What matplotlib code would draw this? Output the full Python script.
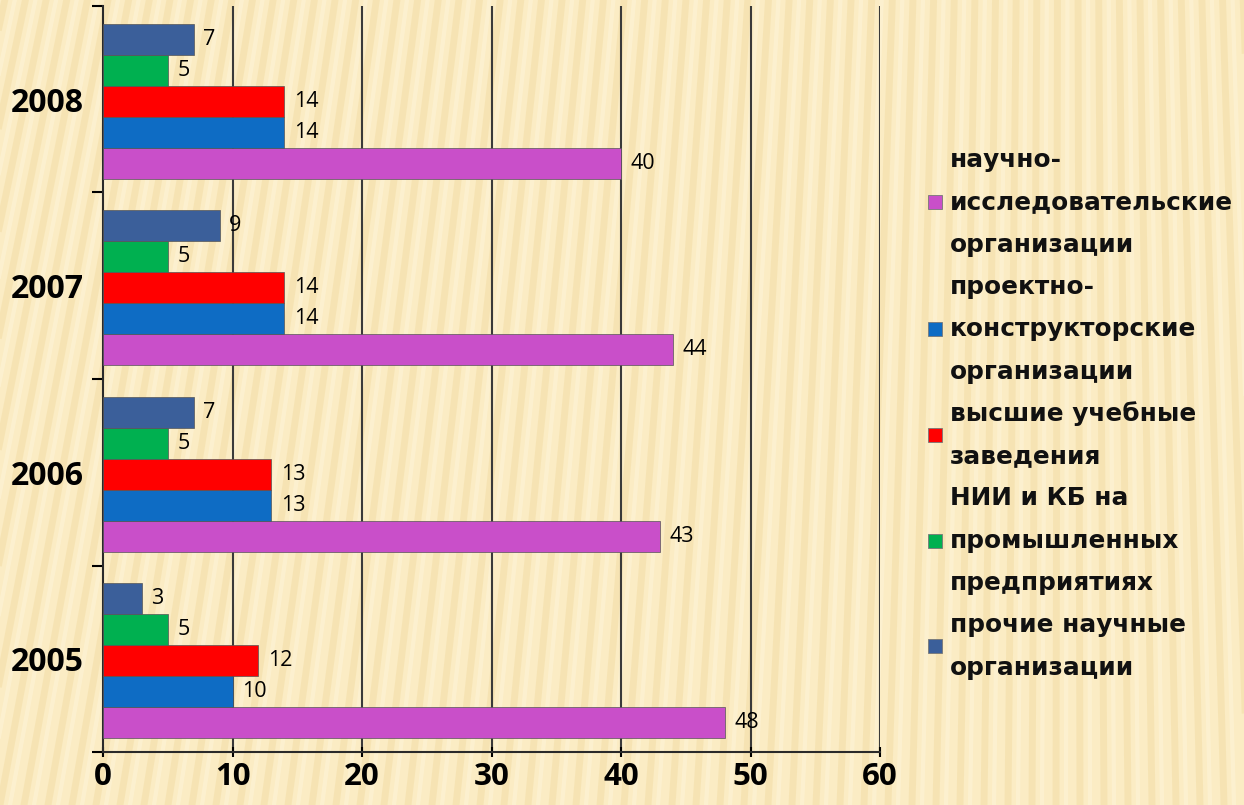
import matplotlib
matplotlib.use("Agg")
import matplotlib.pyplot as plt
from matplotlib.lines import Line2D
from matplotlib.patches import Rectangle
import numpy as np

years = ["2005", "2006", "2007", "2008"]
series_names = [
    "научно-\nисследовательские\nорганизации",
    "проектно-\nконструкторские\nорганизации",
    "высшие учебные\nзаведения",
    "НИИ и КБ на\nпромышленных\nпредприятиях",
    "прочие научные\nорганизации",
]
research = [48, 43, 44, 40]
design = [10, 13, 14, 14]
higher_ed = [12, 13, 14, 14]
industry = [5, 5, 5, 5]
other = [3, 7, 9, 7]
series_values = [research, design, higher_ed, industry, other]
colors = ["#C94FC9", "#0E6CC4", "#FF0000", "#00B050", "#3B5F9A"]
xticks = [0, 10, 20, 30, 40, 50, 60]

W, H = 1244, 805
fig = plt.figure(figsize=(W / 100, H / 100), dpi=100)
fig.patch.set_facecolor("#FBECC4")

# striped background texture
for i in range(-40, 80):
    x0 = i * 24 / W
    slant = 0.12 - 0.14 * (i * 24 / W)
    fig.add_artist(Line2D([x0, x0 + slant], [0, 1], transform=fig.transFigure,
                          color="#F1DAA0", lw=5, alpha=0.45, zorder=-10))
    fig.add_artist(Line2D([x0 + 10 / W, x0 + 10 / W + slant], [0, 1], transform=fig.transFigure,
                          color="#FFF7DE", lw=3, alpha=0.45, zorder=-10))

ax = fig.add_axes([103 / W, 1 - 752 / H, (880 - 103) / W, (752 - 6) / H])
ax.set_facecolor("none")

h = 0.166
y = np.arange(len(years))
for k, (vals, col) in enumerate(zip(series_values, colors)):
    pos = y + (k - 2) * h - 0.01
    ax.barh(pos, vals, height=h, color=col, edgecolor="#555555", linewidth=0.5, zorder=3)
    for p, v in zip(pos, vals):
        ax.text(v + 0.75, p, str(v), va="center", ha="left", fontsize=15.5,
                family="Open Sans", color="#000000", zorder=4)

ax.set_xlim(0, 60)
ax.set_ylim(-0.5, len(years) - 0.5)
ax.set_xticks(xticks)
ax.set_xticklabels([str(t) for t in xticks], fontsize=22.5, fontweight="bold", family="Open Sans")
ax.set_yticks(y)
ax.set_yticklabels(years, fontsize=23, fontweight="bold", family="Open Sans")
ax.tick_params(axis="y", which="major", length=0, pad=14)
ax.set_yticks(np.arange(-0.5, len(years), 1), minor=True)
ax.tick_params(axis="y", which="minor", length=8, width=1.5, direction="out")
ax.tick_params(axis="x", which="major", length=7, width=1.5, direction="inout", pad=4)
for t in xticks[1:]:
    ax.axvline(t, color="#3A3A3A", lw=1.5, zorder=1)
for s in ["top", "right"]:
    ax.spines[s].set_visible(False)
for s in ["left", "bottom"]:
    ax.spines[s].set_linewidth(1.5)
    ax.spines[s].set_color("#2A2A2A")

# legend, drawn line by line
line_h = 42.3
top_y = 160
box_x = 928
txt_x = 950
row = 0
for name, col in zip(series_names, colors):
    lines = name.split("\n")
    mid = top_y + (row + (len(lines) - 1) / 2) * line_h
    fig.add_artist(Rectangle((box_x / W, 1 - (mid + 7) / H), 14 / W, 14 / H,
                             transform=fig.transFigure, facecolor=col,
                             edgecolor="#777777", lw=0.6))
    for ln in lines:
        fig.text(txt_x / W, 1 - (top_y + row * line_h) / H, ln, va="center", ha="left",
                 fontsize=17.8, fontweight="bold", family="DejaVu Sans", color="#111111")
        row += 1

fig.savefig("out.png", dpi=100, facecolor=fig.get_facecolor())
